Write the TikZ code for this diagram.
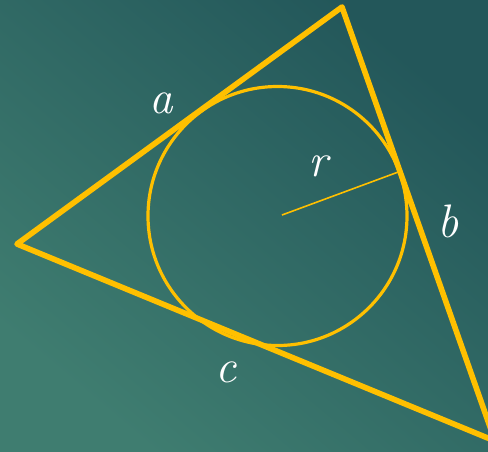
\documentclass[tikz,border=0pt]{standalone}
\usepackage{fontspec}
\usepackage{tikz}
\usetikzlibrary{calc}
\usepackage{xcolor}
\definecolor{gold}{HTML}{FFC000}
\definecolor{tealdark}{HTML}{23575A}
\definecolor{teallight}{HTML}{3F7D70}
\tikzset{
  side/.style   = {draw=gold, line width=5.6pt, line join=round, line cap=round},
  inring/.style = {draw=gold, line width=3.2pt},
  radline/.style= {draw=gold, line width=1.6pt},
  lbl/.style    = {text=white, font=\fontsize{47}{50}\selectfont\itshape, inner sep=0pt},
}

\begin{document}
\begin{tikzpicture}[x=1pt,y=-1pt]
\useasboundingbox (0,0) rectangle (488,451);
\shade[top color=tealdark, bottom color=teallight, shading angle=-40]
  (0,0) rectangle (488,451);
\clip (0,0) rectangle (488,451);
% triangle
\coordinate (A) at (17,244);
\coordinate (B) at (342,7);
\coordinate (C) at (495,441);
\draw[side] (A) -- (B) -- (C) -- cycle;
% inscribed circle
\coordinate (O) at (277.5,216);
\draw[inring] (O) circle (129.5);
\coordinate (O') at (282,215);
\coordinate (T) at (401,171);
\draw[radline] (O') -- (T);
% labels
\node[lbl] (la) at (161,103) {a};
\node[lbl] (lr) at (318,166) {r};
\node[lbl] (lb) at (448,221) {b};
\node[lbl] (lc) at (226,372) {c};
\end{tikzpicture}
\end{document}
